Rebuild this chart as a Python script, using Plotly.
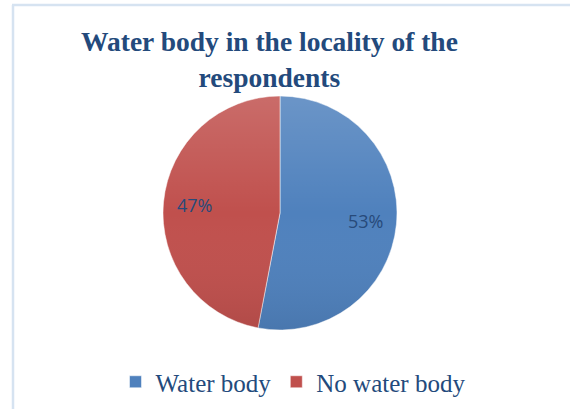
import base64
import math

import plotly.graph_objects as go

# Survey shares: presence of a water body near the respondents
categories = ["Water body", "No water body"]
shares = [53, 47]
slice_colors = ["#4f81bd", "#c0504d"]

W, H = 570, 409
cx, cy, r = 280, 213, 117  # pie centre and radius in pixels

fig = go.Figure(
    go.Pie(
        labels=categories,
        values=shares,
        sort=False,
        direction="clockwise",
        rotation=0,
        marker=dict(colors=slice_colors, line=dict(color="rgba(255,255,255,0.5)", width=1)),
        textinfo="none",
        hoverinfo="label+percent",
        domain=dict(x=[(cx - r) / W, (cx + r) / W], y=[1 - (cy + r) / H, 1 - (cy - r) / H]),
    )
)

# percentage labels placed along each slice's mid-angle
total = sum(shares)
start = 0.0
for v in shares:
    mid = (start + v / 2) / total * 2 * math.pi  # clockwise from 12 o'clock
    start += v
    d = 0.73 * r
    px = cx + d * math.sin(mid)
    py = cy - d * math.cos(mid)
    fig.add_annotation(
        x=px / W, y=1 - py / H, xref="paper", yref="paper",
        text=f"{round(v / total * 100)}%", showarrow=False,
        font=dict(family="Open Sans", size=18, color="#274a7a"),
    )

# soft vertical shading over the disc
svg = (
    '<svg xmlns="http://www.w3.org/2000/svg" width="200" height="200">'
    '<defs><linearGradient id="g" x1="0" y1="0" x2="0" y2="1">'
    '<stop offset="0" stop-color="#ffffff" stop-opacity="0.16"/>'
    '<stop offset="0.5" stop-color="#ffffff" stop-opacity="0"/>'
    '<stop offset="1" stop-color="#000000" stop-opacity="0.08"/>'
    '</linearGradient></defs>'
    '<circle cx="100" cy="100" r="100" fill="url(#g)"/></svg>'
)
fig.add_layout_image(
    source="data:image/svg+xml;base64," + base64.b64encode(svg.encode()).decode(),
    xref="paper", yref="paper",
    x=(cx - r) / W, y=1 - (cy - r) / H,
    sizex=2 * r / W, sizey=2 * r / H,
    xanchor="left", yanchor="top", sizing="stretch", layer="above",
)

# title
fig.add_annotation(
    x=269 / W, y=1 - 24 / H, xref="paper", yref="paper",
    xanchor="center", yanchor="top", showarrow=False,
    text="<b>Water body in the locality of the<br>respondents</b>",
    font=dict(family="Liberation Serif", size=27.5, color="#234a7c"),
)

# light frame along the top and left edges
frame = "#d6e3f1"
fig.add_shape(type="line", xref="paper", yref="paper", x0=12 / W, x1=1, y0=1 - 5 / H, y1=1 - 5 / H,
              line=dict(color=frame, width=2.5))
fig.add_shape(type="line", xref="paper", yref="paper", x0=13 / W, x1=13 / W, y0=0, y1=1 - 5 / H,
              line=dict(color=frame, width=2.5))

fig.update_layout(
    width=W,
    height=H,
    margin=dict(l=0, r=0, t=0, b=0),
    paper_bgcolor="white",
    plot_bgcolor="white",
    legend=dict(
        orientation="h",
        x=293 / W,
        xanchor="center",
        y=1 - 359 / H,
        yanchor="top",
        font=dict(family="Liberation Serif", size=25, color="#234a7c"),
        itemwidth=30,
    ),
)

fig.write_html("out.html")
